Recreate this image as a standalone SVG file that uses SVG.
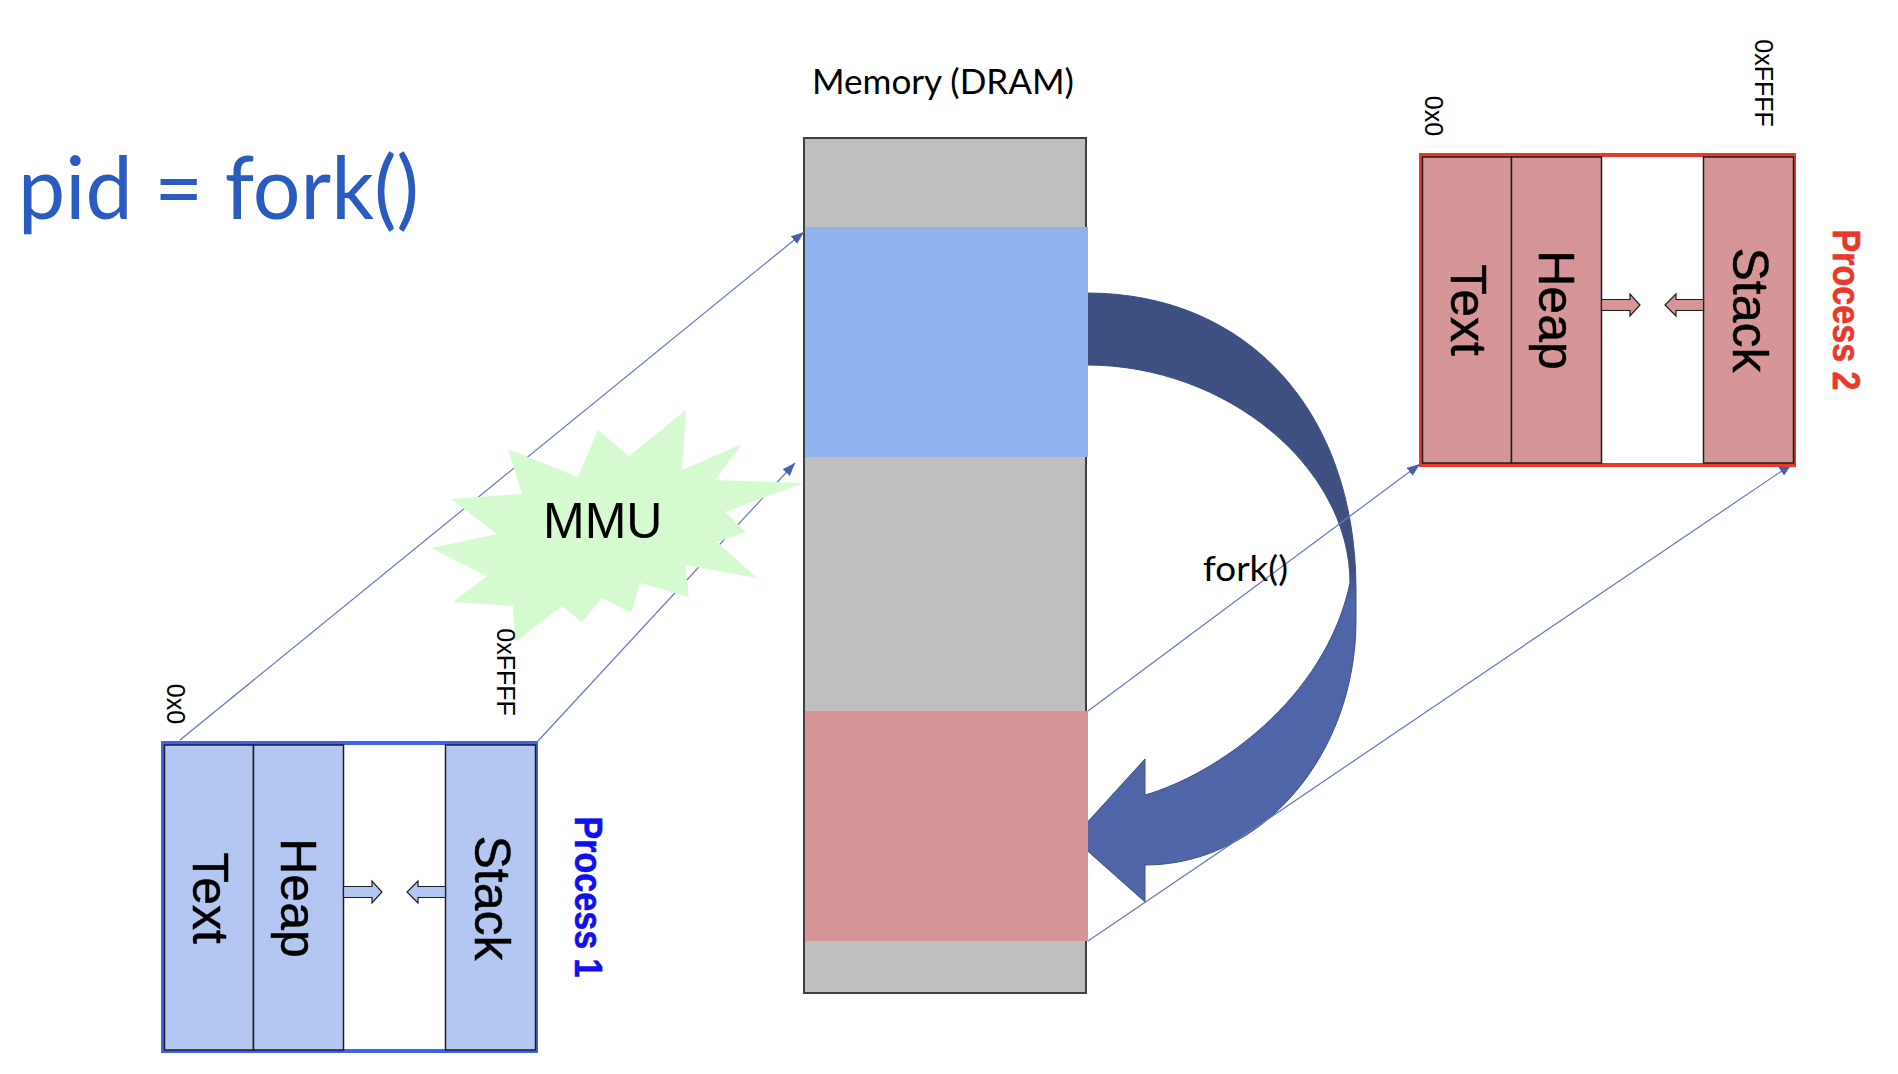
<svg xmlns="http://www.w3.org/2000/svg" width="1898" height="1074" viewBox="0 0 1898 1074">
<style>
.calib{font-family:Lato,"Liberation Sans",sans-serif;}
.arial{font-family:"Liberation Sans",Arial,sans-serif;}
.seg{font-family:"Liberation Sans",Arial,sans-serif;font-size:50px;fill:#000;stroke:#000;stroke-width:0.5;text-anchor:middle;}
.addr{font-family:"Liberation Sans",Arial,sans-serif;font-size:25px;fill:#000;text-anchor:middle;}
.plabel{font-family:"Liberation Sans",Arial,sans-serif;font-size:38px;font-weight:bold;stroke-width:0.6;text-anchor:middle;}
.conn{stroke:#6478C0;stroke-width:1.2;fill:none;marker-end:url(#ah);}
.col1{fill:#B4C7F3;stroke:#1E1E1E;stroke-width:1.5;}
.col2{fill:#D69698;stroke:#1E1E1E;stroke-width:1.5;}
.sm1{fill:#B4C7F3;stroke:#1E1E1E;stroke-width:1.2;}
.sm2{fill:#D69698;stroke:#1E1E1E;stroke-width:1.2;}
</style>
<defs>
<marker id="ah" markerUnits="userSpaceOnUse" markerWidth="14" markerHeight="11" refX="13" refY="5" orient="auto">
<path d="M0,0 L13,5 L0,10 Z" fill="#4A60AC"/>
</marker>
<linearGradient id="cg" gradientUnits="userSpaceOnUse" x1="0" y1="570" x2="0" y2="600">
<stop offset="0" stop-color="#3E4F82"/>
<stop offset="1" stop-color="#4F65A7"/>
</linearGradient>
</defs>
<rect width="1898" height="1074" fill="#fff"/>

<g id="title">
<text class="calib" x="18" y="219" font-size="88" fill="#2A5BC0" textLength="401" lengthAdjust="spacingAndGlyphs">pid = fork()</text>
</g>

<g id="fork-arrow">
<path d="M1087,293 C1248,293 1356,412 1356,590 L1356,620 C1356,755 1262,865 1145,865 L1145,902 L1073,838 L1145,759 L1145,795 C1215,775 1325,700 1350,583 C1350,467 1226,365 1087,365 Z" fill="url(#cg)" stroke="#3F5088" stroke-width="1"/>
</g>

<g id="memory">
<rect x="804" y="138" width="282" height="855" fill="#BFBFBF" stroke="#404040" stroke-width="2"/>
<rect x="805" y="227" width="283" height="230" fill="#8FB1EE"/>
<rect x="805" y="711" width="283" height="230" fill="#D69697"/>
<text class="calib" x="812" y="94" font-size="34" fill="#000" textLength="262" lengthAdjust="spacingAndGlyphs">Memory (DRAM)</text>
</g>

<g id="connectors">
<line class="conn" x1="180" y1="740" x2="804" y2="232"/>
<line class="conn" x1="538" y1="741" x2="795" y2="463"/>
<line class="conn" x1="1088" y1="711" x2="1420" y2="464"/>
<line class="conn" x1="1088" y1="941" x2="1792" y2="464"/>
</g>

<g id="fork-label">
<text class="calib" x="1203" y="581" font-size="34" fill="#000" textLength="85" lengthAdjust="spacingAndGlyphs">fork()</text>
</g>

<g id="mmu">
<polygon fill="#D5FAD0" points="686,410 682,470 742,444 715,480 803,483 725,512 746,532 717,542 757,578 685,565 689,597 640,583 631,613 602,598 582,622 562,606 515,642 513,606 453,602 487,576 431,548 497,534 451,499 522,494 508,449 578,477 598,430 629,456"/>
<text class="arial" x="543" y="538" font-size="50" fill="#000">MMU</text>
</g>

<g id="process1">
<rect x="163" y="743" width="373" height="308" fill="#fff" stroke="#3F63F0" stroke-width="4"/>
<rect class="col1" x="164.5" y="745" width="89" height="305"/>
<rect class="col1" x="253.5" y="745" width="90" height="305"/>
<rect class="col1" x="445.5" y="745" width="90" height="305"/>
<polygon class="sm1" points="343.5,886.5 372,886.5 372,881 382,892 372,903 372,897.5 343.5,897.5"/>
<polygon class="sm1" points="445.5,886.5 418,886.5 418,881 407,892 418,903 418,897.5 445.5,897.5"/>
<text class="seg" transform="translate(193,898) rotate(90)">Text</text>
<text class="seg" transform="translate(281,898) rotate(90)">Heap</text>
<text class="seg" transform="translate(475,898) rotate(90)">Stack</text>
<text class="addr" transform="translate(167,704) rotate(90)">0x0</text>
<text class="addr" transform="translate(497,672) rotate(90)">0xFFFF</text>
<text class="plabel" fill="#1010EE" stroke="#1010EE" textLength="161" lengthAdjust="spacingAndGlyphs" transform="translate(575,897) rotate(90)">Process 1</text>
</g>

<g id="process2">
<rect x="1421" y="155" width="373" height="310" fill="#fff" stroke="#E8392B" stroke-width="4"/>
<rect class="col2" x="1422.5" y="157" width="89" height="306"/>
<rect class="col2" x="1511.5" y="157" width="90" height="306"/>
<rect class="col2" x="1703.5" y="157" width="90" height="306"/>
<polygon class="sm2" points="1601.5,299.5 1630,299.5 1630,294 1640,305 1630,316 1630,310.5 1601.5,310.5"/>
<polygon class="sm2" points="1703.5,299.5 1676,299.5 1676,294 1665,305 1676,316 1676,310.5 1703.5,310.5"/>
<text class="seg" transform="translate(1451,310) rotate(90)">Text</text>
<text class="seg" transform="translate(1539,310) rotate(90)">Heap</text>
<text class="seg" transform="translate(1733,310) rotate(90)">Stack</text>
<text class="addr" transform="translate(1425,116) rotate(90)">0x0</text>
<text class="addr" transform="translate(1755,83) rotate(90)">0xFFFF</text>
<text class="plabel" fill="#E8392B" stroke="#E8392B" textLength="161" lengthAdjust="spacingAndGlyphs" transform="translate(1833,310) rotate(90)">Process 2</text>
</g>
</svg>
